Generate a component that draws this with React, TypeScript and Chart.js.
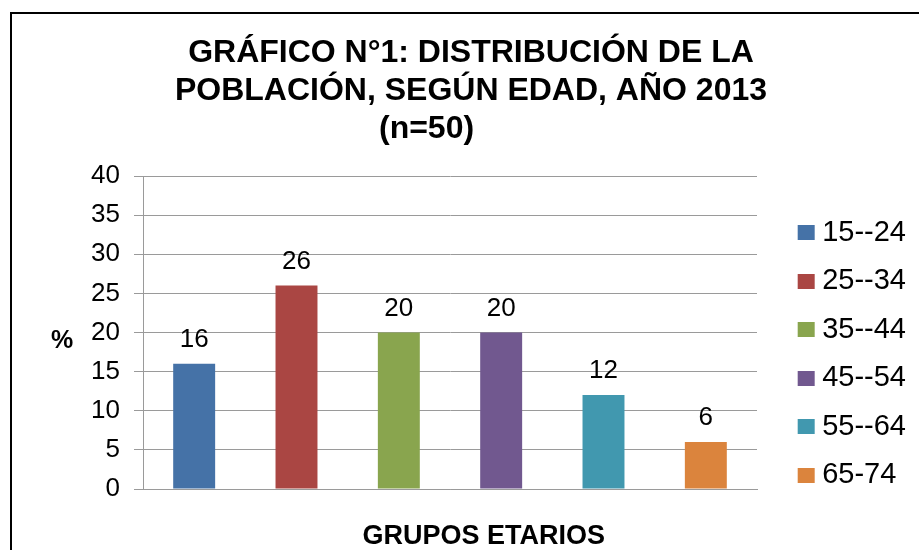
import { useEffect, useRef } from 'react';
import { Chart, registerables } from 'chart.js';

Chart.register(...registerables);

const FONT = "'Liberation Sans', Arial, Helvetica, sans-serif";

// ---- data ----
const categories = ['15--24', '25--34', '35--44', '45--54', '55--64', '65-74'];
const values = [16, 26, 20, 20, 12, 6];
const colors = ['#4572A7', '#AA4643', '#89A54E', '#71588F', '#4198AF', '#DB843D'];
const titleLines = [
  'GRÁFICO N°1: DISTRIBUCIÓN DE LA',
  'POBLACIÓN, SEGÚN EDAD, AÑO 2013',
  '(n=50)' + '          ',
];
const xAxisTitle = '         GRUPOS ETARIOS';
const yAxisTitle = '%';
const yMin = 0;
const yMax = 40;
const yStep = 5;

const GRID = '#9a9a9a';
const CANVAS_W = 919;
const CANVAS_H = 550;
const PAD_LEFT = 26;
const PAD_RIGHT = 3;
const PLOT_LEFT = 143;
const PLOT_RIGHT = 757;

function makeSwatch(color: string): HTMLCanvasElement {
  const c = document.createElement('canvas');
  c.width = 34;
  c.height = 15;
  const g = c.getContext('2d');
  if (g) {
    g.fillStyle = color;
    g.fillRect(12, 0, 17, 15);
  }
  return c;
}

export default function App() {
  const ref = useRef<HTMLCanvasElement>(null);

  useEffect(() => {
    const canvas = ref.current;
    if (!canvas) return;

    const swatches = colors.map(makeSwatch);

    const framePlugin = {
      id: 'frame',
      beforeDraw(chart: any) {
        const { ctx, width, height } = chart;
        ctx.save();
        ctx.fillStyle = '#ffffff';
        ctx.fillRect(0, 0, width, height);
        ctx.strokeStyle = '#000000';
        ctx.lineWidth = 2;
        ctx.beginPath();
        ctx.moveTo(11, height);
        ctx.lineTo(11, 13);
        ctx.lineTo(width, 13);
        ctx.stroke();
        ctx.restore();
      },
    };

    const valueLabelPlugin = {
      id: 'valueLabels',
      afterDatasetsDraw(chart: any) {
        const ctx = chart.ctx;
        ctx.save();
        ctx.font = `26px ${FONT}`;
        ctx.fillStyle = '#000000';
        ctx.textAlign = 'center';
        ctx.textBaseline = 'alphabetic';
        chart.data.datasets.forEach((ds: any, i: number) => {
          const meta = chart.getDatasetMeta(i);
          meta.data.forEach((el: any, j: number) => {
            ctx.fillText(String(ds.data[j]), el.x, el.y - 17);
          });
        });
        ctx.restore();
      },
    };

    const yUnitPlugin = {
      id: 'yUnit',
      afterDraw(chart: any) {
        const { ctx, chartArea } = chart;
        ctx.save();
        ctx.font = `bold 25px ${FONT}`;
        ctx.fillStyle = '#000000';
        ctx.textAlign = 'center';
        ctx.textBaseline = 'alphabetic';
        ctx.fillText(yAxisTitle, chartArea.left - 81, (chartArea.top + chartArea.bottom) / 2 + 15);
        ctx.restore();
      },
    };

    const chart = new Chart(canvas, {
      type: 'bar',
      data: {
        labels: [''],
        datasets: categories.map((c, i) => ({
          label: c,
          data: [values[i]],
          backgroundColor: colors[i],
          borderWidth: 0,
          yAxisID: 'y',
          categoryPercentage: 1,
          barPercentage: 0.41,
        })),
      },
      options: {
        responsive: false,
        animation: false,
        devicePixelRatio: 1,
        layout: { padding: { left: PAD_LEFT, right: PAD_RIGHT, top: 0, bottom: 0 } },
        font: { family: FONT },
        plugins: {
          title: {
            display: true,
            text: titleLines,
            color: '#000000',
            font: { family: FONT, size: 32, weight: 'bold', lineHeight: 38 / 32 },
            padding: { top: 34, bottom: 28 },
          },
          legend: {
            display: true,
            position: 'right',
            fullSize: true,
            align: 'start',
            title: { display: true, text: '', padding: { top: 184.1, bottom: 0 }, font: { size: 12, lineHeight: 1.2 } },
            labels: {
              color: '#000000',
              font: { family: FONT, size: 29 },
              usePointStyle: true,
              pointStyleWidth: 10,
              boxHeight: 15,
              padding: 19.5,
              generateLabels(chart: any) {
                const base = (Chart.defaults as any).plugins.legend.labels.generateLabels(chart);
                return base.map((item: any) => ({
                  ...item,
                  pointStyle: swatches[item.datasetIndex],
                  lineWidth: 0,
                }));
              },
            },
          },
          tooltip: { enabled: false },
        },
        scales: {
          x: {
            grid: { display: false, drawTicks: false },
            border: { display: true, color: GRID },
            ticks: { display: false },
            title: {
              display: true,
              text: xAxisTitle,
              color: '#000000',
              font: { family: FONT, size: 27, weight: 'bold', lineHeight: 1 },
              padding: { top: 34, bottom: 0 },
            },
            afterFit(scale: any) {
              scale.height = 61;
            },
          },
          y: {
            min: yMin,
            max: yMax,
            position: 'left',
            ticks: {
              stepSize: yStep,
              color: '#000000',
              font: { family: FONT, size: 26 },
              padding: 14,
            },
            grid: { color: GRID, lineWidth: 1, tickLength: 9, drawTicks: true },
            border: { display: true, color: GRID, width: 1 },
            afterFit(scale: any) {
              scale.width = PLOT_LEFT - PAD_LEFT;
            },
          },
          y2: {
            position: 'right',
            display: true,
            grid: { display: false, drawTicks: false },
            border: { display: false },
            ticks: { display: false },
            afterFit(scale: any) {
              const lg = scale.chart.legend;
              const lw = lg && lg.width ? lg.width : 138;
              scale.width = Math.max(0, CANVAS_W - PAD_RIGHT - lw - PLOT_RIGHT);
            },
          },
        },
      },
      plugins: [framePlugin, valueLabelPlugin, yUnitPlugin],
    } as any);

    return () => chart.destroy();
  }, []);

  return (
    <div style={{ position: 'fixed', left: 0, top: 0, width: CANVAS_W, height: CANVAS_H, background: '#fff' }}>
      <canvas ref={ref} width={CANVAS_W} height={CANVAS_H} style={{ display: 'block' }} />
    </div>
  );
}
